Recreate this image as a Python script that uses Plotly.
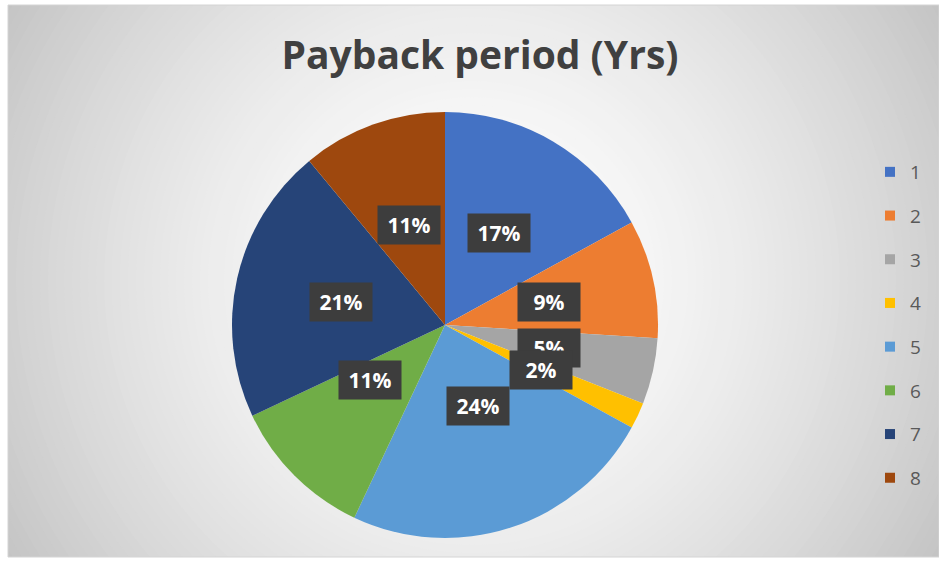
"""Excel-style pie chart: payback period distribution."""

import math

import plotly.graph_objects as go

W, H = 939, 563

categories = ["1", "2", "3", "4", "5", "6", "7", "8"]
shares = [17, 9, 5, 2, 24, 11, 21, 11]
colors = ["#4472C4", "#ED7D31", "#A5A5A5", "#FFC000", "#5B9BD5", "#70AD47", "#264478", "#9E480E"]

# pie placement in pixels (centre + radius)
cx, cy, R = 445, 325, 213
dom_x = [(cx - R) / W, (cx + R) / W]
dom_y = [1 - (cy + R) / H, 1 - (cy - R) / H]

fig = go.Figure()
fig.add_trace(
    go.Pie(
        labels=categories,
        values=shares,
        sort=False,
        direction="clockwise",
        rotation=0,
        marker={"colors": colors, "line": {"width": 0}},
        textinfo="none",
        hoverinfo="label+percent",
        showlegend=False,
        domain={"x": dom_x, "y": dom_y},
    )
)

# legend entries, one group each so the gap spaces them out
for name, col in zip(categories, colors):
    fig.add_trace(
        go.Scatter(
            x=[None],
            y=[None],
            mode="markers",
            name=name,
            legendgroup=name,
            marker={"symbol": "square", "size": 10, "color": col},
        )
    )

# data labels in dark boxes at half radius
total = sum(shares)
cum = 0
for v in shares:
    mid = (cum + v / 2) / total
    cum += v
    ang = 2 * math.pi * mid
    px = cx + 0.5 * R * math.sin(ang)
    py = cy - 0.5 * R * math.cos(ang)
    fig.add_annotation(
        x=px / W,
        y=1 - py / H,
        xref="paper",
        yref="paper",
        text=f"<b>{round(v / total * 100)}%</b>",
        showarrow=False,
        font={"family": "Open Sans, sans-serif", "size": 21, "color": "white"},
        bgcolor="#3D3D3D",
        width=50,
        height=26,
        borderpad=6,
    )

# radial grey background
shapes = []
gx, gy = 472, 281
for r in range(560, 0, -8):
    g = int(round(255 - 58 * (r / 540) ** 1.6))
    g = max(g, 196)
    shapes.append(
        dict(
            type="circle",
            xref="paper",
            yref="paper",
            x0=(gx - r) / W,
            x1=(gx + r) / W,
            y0=1 - (gy + r) / H,
            y1=1 - (gy - r) / H,
            fillcolor=f"rgb({g},{g},{g})",
            line={"width": 0},
            layer="below",
        )
    )
# white margins outside the chart frame
for x0, y0, x1, y1 in [(0, 0, 8, H), (0, 0, W, 5), (0, 557, W, H)]:
    shapes.append(
        dict(
            type="rect",
            xref="paper",
            yref="paper",
            x0=x0 / W,
            x1=x1 / W,
            y0=1 - y1 / H,
            y1=1 - y0 / H,
            fillcolor="white",
            line={"width": 0},
            layer="below",
        )
    )
shapes.append(
    dict(
        type="rect",
        xref="paper",
        yref="paper",
        x0=8 / W,
        x1=1,
        y0=1 - 557 / H,
        y1=1 - 5 / H,
        line={"color": "#D4D4D4", "width": 1},
        layer="below",
    )
)

fig.update_layout(
    width=W,
    height=H,
    margin={"l": 0, "r": 0, "t": 0, "b": 0},
    paper_bgcolor="white",
    plot_bgcolor="rgba(0,0,0,0)",
    shapes=shapes,
    title={
        "text": "<b>Payback period (Yrs)</b>",
        "x": 480 / W,
        "xanchor": "center",
        "y": 1 - 55 / H,
        "yanchor": "middle",
        "font": {"family": "Open Sans, sans-serif", "size": 39, "color": "#404040"},
    },
    legend={
        "x": 870 / W,
        "xanchor": "left",
        "y": 1 - 325 / H,
        "yanchor": "middle",
        "bgcolor": "rgba(0,0,0,0)",
        "font": {"family": "Open Sans, sans-serif", "size": 19, "color": "#595959"},
        "tracegroupgap": 16,
        "itemwidth": 30,
    },
    xaxis={"visible": False},
    yaxis={"visible": False},
)

fig.write_html(
    "out.html",
    config={"displayModeBar": False},
    post_script="document.body.style.margin='0';",
)
